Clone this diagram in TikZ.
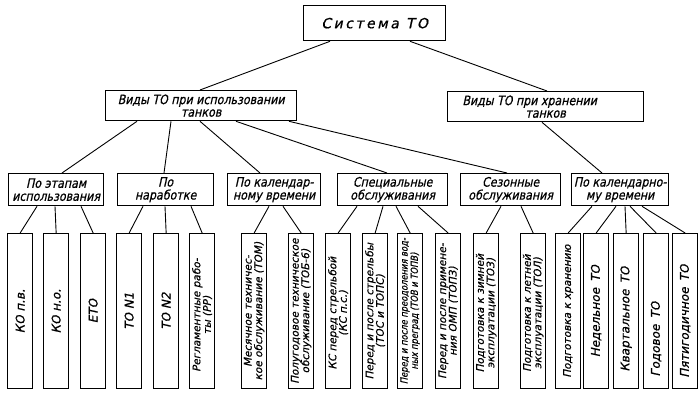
\documentclass[tikz,border=0pt]{standalone}
\usepackage{fontspec}
\setmainfont{DejaVu Sans}[FakeSlant=0.22, FakeBold=0.7]
\newfontfamily\narrow{DejaVu Sans}[FakeSlant=0.22, FakeStretch=0.85, FakeBold=0.7]
\newfontfamily\spaced{DejaVu Sans}[FakeSlant=0.22, LetterSpace=18, FakeBold=0.9]
\begin{document}
\begin{tikzpicture}[x=1pt,y=-1pt,
  box/.style={draw, line width=1.3pt, inner sep=0pt, anchor=north west},
  hbox/.style={box, minimum height=32},
  link/.style={line width=0.9pt},
  htext/.style={align=center, inner sep=0pt},
  vtext/.style={rotate=90, align=center, inner sep=0pt},
  small/.style={font=\fontsize{10.5}{10.5}\selectfont},
  tiny/.style={font=\narrow\fontsize{9.8}{10.3}\selectfont},
  big/.style={font=\fontsize{12}{12}\selectfont}]
\useasboundingbox (0,0) rectangle (700,401);

% level 1
\node[box, minimum width=142, minimum height=35] (top) at (303,5) {};
\node[htext, font=\spaced\fontsize{14}{15}\selectfont] (topt) at (top.center) {Система ТО};

% level 2
\node[box, minimum width=191, minimum height=30] (use) at (105,90) {};
\node[htext, font=\narrow\fontsize{13}{12.5}\selectfont] (uset) at (use.center) {Виды ТО при использовании\\танков};
\node[box, minimum width=196, minimum height=30] (store) at (447,91) {};
\node[htext, font=\narrow\fontsize{13}{12.5}\selectfont] (storet) at ([xshift=-16]store.center) {Виды ТО при хранении\\\hspace*{32pt}танков};

% level 3
\newcommand\groupbox[4]{%
  \node[hbox, minimum width=#3] (#1) at (#2,173) {};
  \node[htext, font=\narrow\fontsize{13}{13}\selectfont] (#1t) at (#1.center) {#4};}
\groupbox{ga}{8}{95}{По этапам\\использования}
\groupbox{gb}{117}{96}{По\\наработке}
\groupbox{gc}{227}{93}{По календар-\\ному времени}
\groupbox{gd}{337}{110}{Специальные\\обслуживания}
\groupbox{ge}{460}{100}{Сезонные\\обслуживания}
\groupbox{gf}{571}{97}{По календарно-\\му времени}

% level 4: tall boxes, text reading upwards
\newcommand\tallbox[5][0]{%
  \node[box, minimum width=25, minimum height=155] (#2) at (#3,233) {};
  \node[vtext, #4] (#2t) at ([yshift=#1]#2.center) {#5};}
\tallbox{b1}{7}{big}{КО п.в.}
\tallbox{b2}{43}{big}{КО н.о.}
\tallbox{b3}{80}{big}{ЕТО}
\tallbox{b4}{116}{big}{ТО N1}
\tallbox{b5}{153}{big}{ТО N2}
\tallbox[-4]{b6}{189}{small}{Регламентные рабо-\\ты (РР)}
\tallbox{b7}{241}{small}{Месячное техничес-\\кое обслуживание (ТОМ)}
\tallbox{b8}{288}{small}{Полугодовое техническое\\обслуживание (ТОБ-6)}
\tallbox[-2]{b9}{325}{small}{КС перед стрельбой\\(КС п.с.)}
\tallbox{b10}{362}{small}{Перед и после стрельбы\\(ТОС и ТОПС)}
\tallbox{b11}{397}{tiny}{Перед и после преодоления вод-\\ных преград (ТОВ и ТОПВ)}
\tallbox{b12}{435}{small}{Перед и после примене-\\ния ОМП (ТОПЗ)}
\tallbox[-2]{b13}{473}{small}{Подготовка к зимней\\эксплуатации (ТОЗ)}
\tallbox[-2]{b14}{520}{small}{Подготовка к летней\\эксплуатации (ТОЛ)}
\tallbox{b15}{555}{font=\fontsize{10.5}{12}\selectfont}{Подготовка к хранению}
\tallbox{b16}{583}{big}{Недельное\enspace ТО}
\tallbox[-8]{b17}{613}{big}{Квартальное\enspace ТО}
\tallbox[-28]{b18}{643}{big}{Годовое\enspace ТО}
\tallbox[-10]{b19}{672}{big}{Пятигодичное\enspace ТО}

% connectors
\draw[link] ([xshift=27]top.south west) -- ([xshift=95]use.north west);
\draw[link] ([xshift=107]top.south west) -- ([xshift=100]store.north west);

\draw[link] ([xshift=32]use.south west) -- ([xshift=54]ga.north west);
\draw[link] ([xshift=66]use.south west) -- ([xshift=47]gb.north west);
\draw[link] ([xshift=95]use.south west) -- ([xshift=33]gc.north west);
\draw[link] ([xshift=131]use.south west) -- ([xshift=50]gd.north west);
\draw[link] ([xshift=184]use.south west) -- ([xshift=47]ge.north west);
\draw[link] ([xshift=95]store.south west) -- ([xshift=31]gf.north west);

\draw[link] ([xshift=29]ga.south west) -- (b1.north);
\draw[link] ([xshift=47]ga.south west) -- (b2.north);
\draw[link] ([xshift=73]ga.south west) -- (b3.north);
\draw[link] ([xshift=26]gb.south west) -- (b4.north);
\draw[link] ([xshift=48]gb.south west) -- (b5.north);
\draw[link] ([xshift=74]gb.south west) -- (b6.north);
\draw[link] ([xshift=42]gc.south west) -- (b7.north);
\draw[link] ([xshift=56]gc.south west) -- (b8.north);
\draw[link] ([xshift=20]gd.south west) -- (b9.north);
\draw[link] ([xshift=46]gd.south west) -- (b10.north);
\draw[link] ([xshift=59]gd.south west) -- (b11.north);
\draw[link] ([xshift=81]gd.south west) -- (b12.north);
\draw[link] ([xshift=41]ge.south west) -- (b13.north);
\draw[link] ([xshift=61]ge.south west) -- (b14.north);
\draw[link] ([xshift=21]gf.south west) -- (b15.north);
\draw[link] ([xshift=45]gf.south west) -- (b16.north);
\draw[link] ([xshift=54]gf.south west) -- (b17.north);
\draw[link] ([xshift=59]gf.south west) -- (b18.north);
\draw[link] ([xshift=71]gf.south west) -- (b19.north);
\end{tikzpicture}
\end{document}
